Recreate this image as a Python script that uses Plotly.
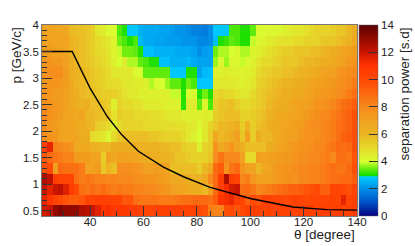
import plotly.graph_objects as go

# bin edges: theta 22..140 in 2 degree bins, p 0.4..4 in 0.2 GeV/c bins
theta = [22 + 2 * i + 1 for i in range(59)]
p = [0.5 + 0.2 * i for i in range(18)]

p_3p9 = [6.8,6.8,6.8,6.7,6.7,5.9,5.8,5.7,5.6,5.4, 4.6,4.5,4.1,4.1,3.3,3.05,2.8,2.8,2.5,2.4, 2.4,2.4,2.3,2.3,2.2,2.1,2.1,2.0,1.8,1.8, 1.7,2.0,2.8,2.8,2.8,3.3,3.3,3.05,3.05,3.4, 4.1,4.1,4.2,4.2,4.2,4.4,4.5,4.6,4.7,4.8, 5.0,5.2,5.2,5.2,5.4,5.6,5.6,6.0,6.4]
p_3p7 = [7.0,7.0,6.8,6.8,6.8,6.2,6.0,5.8,5.6,5.4, 5.0,4.8,4.6,4.3,3.5,3.3,3.05,3.3,2.6,2.4, 2.4,2.3,2.3,2.2,2.2,2.2,2.1,2.1,2.1,1.9, 1.9,2.0,2.7,3.05,3.2,3.4,3.3,3.05,3.05,3.9, 4.2,4.3,4.5,4.6,4.8,4.8,4.8,5.0,5.0,5.2, 5.2,5.2,5.5,5.6,5.6,5.8,6.0,6.2,6.6]
p_3p5 = [7.2,7.2,7.0,6.9,6.8,6.2,6.0,5.8,5.6,5.3, 5.0,4.9,4.7,4.3,3.9,3.5,3.5,3.4,3.05,2.7, 2.7,2.5,2.5,2.5,2.5,2.4,2.4,2.4,2.3,2.0, 2.2,2.3,3.5,3.8,3.8,4.0,4.2,3.8,3.8,4.3, 4.4,4.6,4.8,5.0,5.2,5.4,5.4,5.6,5.6,5.6, 5.8,5.8,6.0,6.2,6.4,6.6,6.8,7.0,7.2]
p_3p3 = [7.5,7.6,7.4,7.4,7.0,6.4,6.0,5.8,5.6,5.4, 5.2,5.0,4.8,4.4,4.0,4.5,3.8,3.8,3.4,3.3, 3.05,3.05,2.7,2.7,2.5,2.5,2.5,2.6,2.4,2.3, 2.3,2.3,3.7,4.2,3.7,4.2,4.2,3.9,4.2,4.4, 4.7,5.0,5.0,5.2,5.4,5.6,5.6,5.6,5.8,6.0, 6.0,6.2,6.4,6.4,6.6,6.8,7.0,7.4,7.6]
p_3p1 = [7.6,7.8,7.8,7.8,7.2,6.4,6.2,6.0,5.8,5.6, 5.4,5.2,5.0,4.6,4.6,4.6,4.6,4.2,4.0,3.4, 3.4,3.4,3.4,3.4,2.8,2.8,2.8,3.05,3.05,2.3, 2.6,2.7,4.4,4.4,4.5,4.4,4.4,4.3,4.4,4.5, 5.0,5.2,5.4,5.6,5.6,5.8,5.8,6.0,6.2,6.2, 6.4,6.6,6.8,7.0,7.0,7.4,7.6,7.8,8.0]
p_2p9 = [7.4,7.6,7.6,7.4,7.2,6.6,6.2,6.0,5.8,5.6, 5.4,5.2,5.0,4.9,4.9,4.7,4.6,4.5,4.5,4.4, 3.8,4.1,4.0,3.7,3.4,3.4,3.05,3.5,3.3,2.8, 2.8,2.8,4.6,4.6,4.6,4.6,4.5,4.4,4.5,4.7, 5.2,5.4,5.6,5.8,6.0,6.2,6.2,6.4,6.4,6.6, 6.8,7.0,7.0,7.2,7.4,7.6,7.8,8.0,8.4]
p_2p7 = [7.6,7.4,7.2,7.2,7.0,6.6,6.4,6.0,5.8,5.8, 5.6,5.4,5.4,5.3,5.1,4.8,4.6,4.6,4.4,4.4, 4.4,4.4,4.4,4.4,3.9,3.9,3.1,4.0,4.1,3.05, 3.5,3.05,5.0,5.2,5.0,5.0,4.8,4.6,4.6,5.0, 5.4,5.6,5.8,6.0,6.2,6.4,6.4,6.6,6.6,6.8, 7.0,7.2,7.4,7.4,7.6,7.8,8.0,8.4,8.8]
p_2p5 = [7.8,7.6,7.4,7.2,7.0,6.6,6.4,6.2,6.4,5.8, 5.8,5.6,5.4,4.4,5.2,5.0,5.0,4.8,4.8,4.5, 4.5,4.5,4.5,4.4,4.4,4.3,3.1,4.5,4.5,3.4, 4.3,3.3,5.2,5.6,5.6,5.8,5.4,5.0,5.0,5.2, 5.4,5.6,6.0,6.2,6.4,6.4,6.6,6.8,7.0,7.0, 7.2,7.6,7.6,7.8,8.0,8.4,8.8,9.0,9.4]
p_2p3 = [8.0,7.6,7.4,7.2,6.8,6.8,6.6,6.8,6.0,6.0, 5.8,5.6,5.6,4.8,5.4,5.2,5.2,5.0,5.0,5.0, 4.9,4.9,4.8,4.6,4.6,4.6,4.4,4.4,4.4,4.4, 4.5,4.4,5.4,5.6,5.8,5.8,5.8,5.2,5.2,5.4, 5.6,5.8,6.2,6.4,6.6,6.6,6.8,6.8,7.0,7.2, 7.6,7.8,8.0,8.0,8.4,8.6,9.0,9.2,9.8]
p_2p1 = [7.9,7.4,7.2,7.0,6.8,6.8,6.6,6.4,6.2,6.0, 5.4,5.2,4.9,4.4,5.0,5.2,5.2,5.2,5.2,5.0, 5.0,5.0,4.9,4.9,4.9,4.8,4.8,4.6,4.6,4.2, 4.6,5.2,5.6,6.0,6.0,6.2,6.4,5.4,6.2,5.4, 5.8,6.0,6.4,6.6,6.6,6.8,7.0,7.2,7.2,7.6, 7.8,7.8,8.0,8.2,8.4,8.8,9.0,9.2,9.8]
p_1p9 = [7.8,7.6,7.5,6.9,6.8,6.8,6.8,6.4,6.4,5.0, 4.8,4.6,4.2,5.0,5.6,5.8,5.8,5.8,5.8,5.8, 5.6,5.6,5.4,5.2,5.2,5.2,5.0,4.6,4.4,4.0, 4.6,5.4,6.6,6.0,6.2,6.4,7.0,5.6,7.0,5.4, 6.4,6.0,6.0,6.4,6.6,6.8,7.0,7.0,7.4,7.6, 7.6,7.8,8.0,8.2,8.4,8.8,9.2,9.4,9.8]
p_1p7 = [10.5,11.5,8.2,8.0,7.8,7.5,6.6,6.6,6.6,6.2, 6.2,6.0,6.0,6.4,6.4,6.4,6.4,6.4,6.2,6.2, 6.2,6.2,6.0,6.0,5.8,5.8,5.4,5.2,5.2,4.4, 5.2,5.4,7.6,6.6,7.0,7.6,6.8,6.4,5.8,5.8, 5.8,5.8,6.4,6.6,6.8,7.0,7.2,7.4,7.6,7.6, 7.8,8.0,8.0,8.4,8.6,9.0,8.8,9.0,9.8]
p_1p5 = [9.5,9.0,8.6,8.4,8.2,8.2,7.2,7.2,7.2,6.8, 6.8,5.4,7.0,6.6,7.0,7.0,6.8,6.8,6.6,6.4, 6.4,6.4,6.2,6.2,6.0,5.6,5.6,5.4,5.2,5.2, 5.2,5.6,7.8,8.6,8.0,8.0,8.0,7.0,5.0,5.0, 7.0,6.8,7.0,7.0,7.2,7.4,7.4,7.6,7.8,7.8, 8.0,8.0,8.2,8.4,8.0,8.8,8.8,8.6,9.6]
p_1p3 = [9.8,10.0,7.0,9.0,8.8,8.8,8.8,8.4,7.0,7.0, 7.2,5.5,6.2,5.8,7.8,7.8,7.8,7.6,7.4,7.0, 7.0,7.2,7.0,6.8,5.8,5.8,5.8,5.8,5.8,5.4, 6.0,6.6,9.0,9.4,7.6,8.6,9.0,7.6,7.0,6.8, 6.0,6.6,6.8,7.2,7.4,7.6,7.6,7.8,8.0,8.0, 8.2,8.2,8.4,8.6,8.8,8.6,8.6,9.0,9.8]
p_1p1 = [12.5,12.2,10.5,10.2,10.2,10.2,8.8,8.4,8.6,8.4, 8.2,8.2,8.0,8.2,8.0,8.0,8.0,7.8,7.8,7.6, 7.6,7.4,7.2,7.0,6.6,6.6,6.6,6.4,6.2,6.2, 6.6,8.0,9.0,10.5,12.5,10.5,10.2,8.0,8.4,7.4, 7.0,7.0,7.0,7.2,7.4,7.6,7.8,7.6,8.0,8.0, 8.2,8.2,8.4,8.6,8.8,8.8,9.0,9.0,9.4]
p_0p9 = [12.0,11.5,12.0,12.2,11.6,10.6,10.0,8.8,8.6,9.0, 8.6,9.0,8.6,8.4,8.6,8.4,8.4,8.2,8.2,8.0, 8.0,7.8,7.6,7.4,7.0,6.8,6.8,6.6,6.4,6.4, 6.0,7.0,9.0,10.4,11.2,11.8,12.0,8.8,9.0,8.6, 8.0,8.2,8.4,8.6,8.8,9.0,9.2,9.2,9.4,9.6, 9.8,10.0,9.2,9.2,10.2,10.2,10.0,9.8,10.2]
p_0p7 = [11.5,11.0,10.4,10.0,9.6,9.4,9.4,9.6,10.2,10.2, 10.4,10.4,10.4,10.2,10.2,9.5,9.6,8.8,8.6,8.6, 8.6,8.6,8.4,8.4,8.4,8.6,8.8,8.8,9.0,9.0, 9.0,8.8,9.4,11.0,11.2,11.4,10.5,10.2,9.2,10.0, 9.6,10.4,10.4,10.2,10.2,10.0,10.2,10.4,10.2,10.0, 10.2,10.2,10.2,10.2,10.4,10.2,11.5,10.2,10.4]
p_0p5 = [11.8,12.0,13.0,13.3,13.0,13.0,13.0,12.5,12.3,12.0, 11.6,11.0,11.2,10.8,10.8,10.8,10.6,10.6,10.4,10.2, 10.2,10.4,10.4,10.4,10.4,10.4,10.2,10.2,10.4,10.0, 9.8,8.4,8.2,8.2,9.8,10.0,9.6,10.0,10.4,10.4, 10.4,10.2,10.4,10.2,10.4,10.4,10.4,10.2,10.4,10.6, 10.4,10.2,10.6,10.4,10.4,10.6,10.4,10.4,10.6]

z = [p_0p5, p_0p7, p_0p9, p_1p1, p_1p3, p_1p5, p_1p7, p_1p9, p_2p1,
     p_2p3, p_2p5, p_2p7, p_2p9, p_3p1, p_3p3, p_3p5, p_3p7, p_3p9]

# black curve
line_theta = [22, 33.3, 40, 46.5, 51.9, 58.1, 67.5, 75, 85, 100, 116, 128.7, 140]
line_p = [3.5, 3.5, 2.81, 2.27, 1.93, 1.62, 1.32, 1.14, 0.94, 0.73, 0.57, 0.52, 0.51]

palette = [
    [0.0, "#00007a"], [0.07, "#0050c8"], [0.145, "#0090e8"], [0.205, "#00ccff"],
    [0.212, "#10dd00"], [0.25, "#70ee10"], [0.285, "#d8ff30"], [0.36, "#e6d82a"],
    [0.43, "#ebb622"], [0.57, "#f78a1c"], [0.71, "#ff4a05"], [0.79, "#ff3200"],
    [0.86, "#c81400"], [1.0, "#5a0000"],
]

fig = go.Figure()
fig.add_trace(go.Heatmap(
    x=theta, y=p, z=z, zmin=0, zmax=14, colorscale=palette,
    colorbar=dict(
        x=1.0063, xanchor="left", xpad=0, y=0, yanchor="bottom", len=1, ypad=0,
        thickness=18.5, outlinewidth=0.5, outlinecolor="#666666",
        tickmode="array", tickvals=[0, 2, 4, 6, 8, 10, 12, 14],
        ticks="inside", ticklen=9, tickcolor="#333333", tickwidth=1,
        tickfont=dict(family="Liberation Sans", size=11.5, color="#222222"),
    ),
))
fig.add_trace(go.Scatter(x=line_theta, y=line_p, mode="lines",
                         line=dict(color="black", width=1.4), showlegend=False))

axis_style = dict(
    showgrid=False, zeroline=False, showline=True, mirror=True, linewidth=0.6,
    linecolor="#777777", ticks="inside", tickcolor="#333333",
    tickfont=dict(family="Liberation Sans", size=11.5, color="#222222"),
)
fig.update_xaxes(range=[22, 140], tick0=0, dtick=20, ticklen=10, ticklabelstandoff=-5,
                 minor=dict(ticks="inside", dtick=5, ticklen=5, tickcolor="#333333"),
                 **axis_style)
fig.update_yaxes(range=[0.4, 4], tick0=0, dtick=0.5, ticklen=10,
                 minor=dict(ticks="inside", dtick=0.1, ticklen=5, tickcolor="#333333"),
                 **axis_style)

title_font = dict(family="Liberation Sans", size=13.5, color="#222222")
fig.update_layout(
    width=415, height=246, autosize=False,
    margin=dict(l=41.7, r=58, t=24.5, b=29.5, autoexpand=False),
    paper_bgcolor="white", plot_bgcolor="white",
    showlegend=False,
    annotations=[
        dict(text="θ [degree]", xref="paper", yref="paper", x=1, y=-0.096,
             xanchor="right", yanchor="middle", showarrow=False, font=title_font),
        dict(text="p [GeV/c]", xref="paper", yref="paper", x=-0.081, y=1,
             xanchor="center", yanchor="top", textangle=-90, showarrow=False, font=title_font),
        dict(text="separation power [s.d]", xref="paper", yref="paper", x=1.152, y=1,
             xanchor="center", yanchor="top", textangle=-90, showarrow=False, font=title_font),
    ],
)

fig.write_html("out.html", config=dict(displayModeBar=False),
               post_script="document.body.style.margin='0';")
